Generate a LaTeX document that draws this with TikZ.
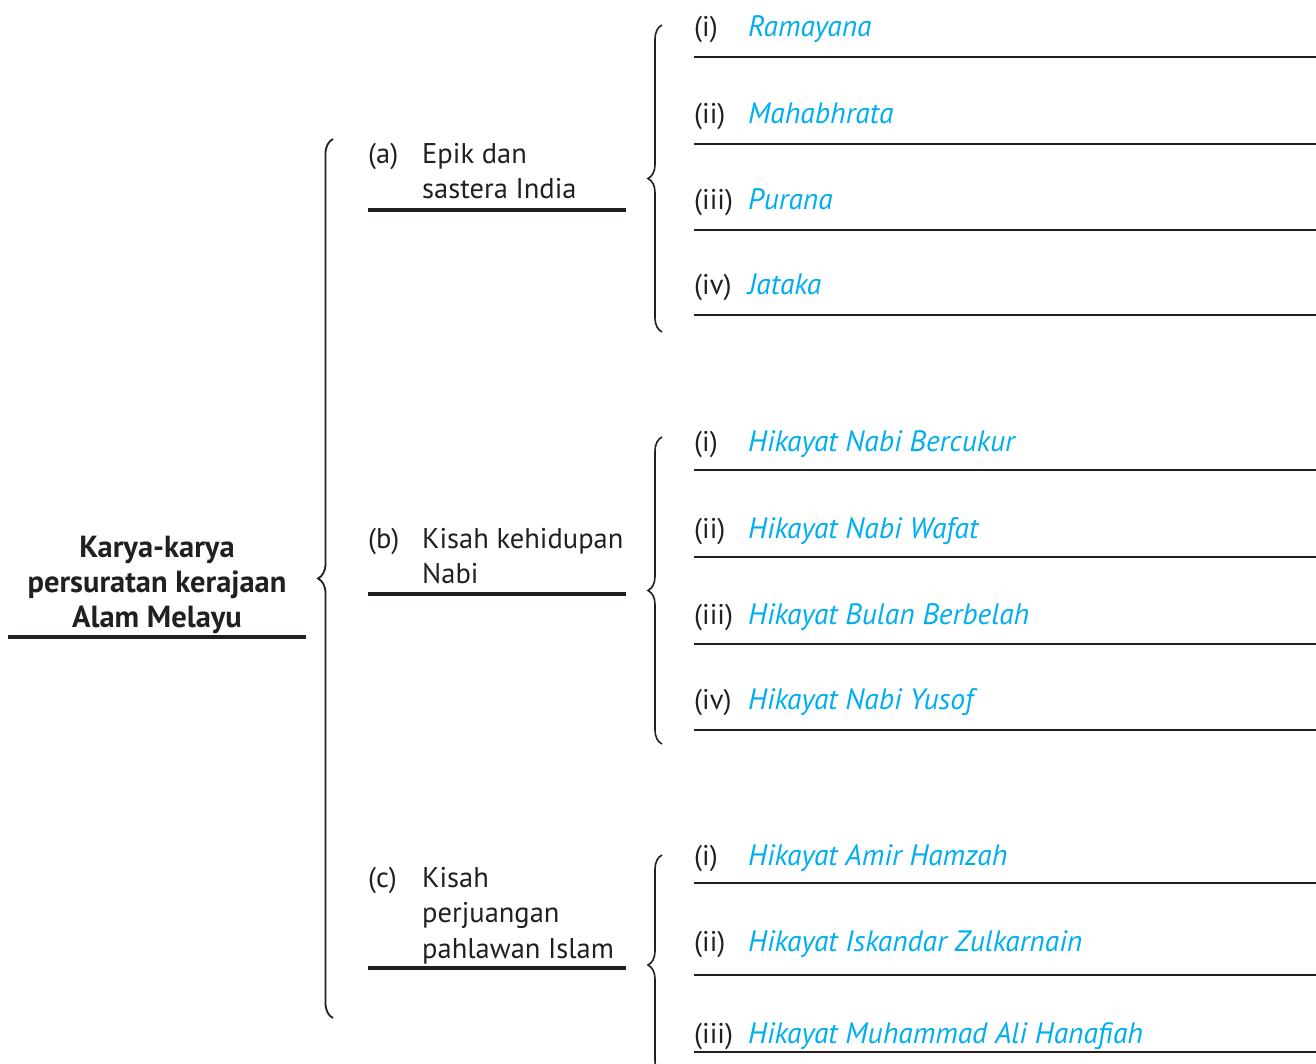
\documentclass[tikz,border=0pt]{standalone}
\usepackage{fontspec}
\setmainfont{PT Sans}
\usetikzlibrary{decorations.pathreplacing}
\definecolor{ink}{HTML}{231F20}
\definecolor{cyantext}{HTML}{00AEEF}
\begin{document}
\begin{tikzpicture}[x=1pt,y=-1pt,
  lbl/.style={anchor=base west, inner sep=0pt, font=\fontsize{28.5}{34}\selectfont, text=ink},
  itm/.style={anchor=base west, inner sep=0pt, font=\fontsize{29.5}{34}\selectfont\itshape, text=cyantext},
  ttl/.style={anchor=base, inner sep=0pt, font=\fontsize{30.5}{34}\selectfont\bfseries, text=ink},
  itemrule/.style={draw=ink, line width=2pt},
  catrule/.style={draw=ink, line width=3.5pt},
  bigbrace/.style={draw=ink, line width=1.8pt, decorate, decoration={brace, amplitude=15pt}},
  subbrace/.style={draw=ink, line width=1.6pt, decorate, decoration={brace, amplitude=14pt}}]
\useasboundingbox (0,0) rectangle (1316,1064);
\clip (0,0) rectangle (1316,1064);

% title
\node[ttl] (t1) at (157,557) {Karya-karya};
\node[ttl] (t2) at (157,592) {persuratan kerajaan};
\node[ttl] (t3) at (157,627) {Alam Melayu};
\draw[catrule] (8,637) -- (306,637);

% big brace
\coordinate (bbB) at (333,1018);
\coordinate (bbT) at (333,139);
\draw[bigbrace] (bbB) -- (bbT);

% categories
\node[lbl] (ca) at (368,164) {(a)};
\node[lbl] (ca1) at (422,164) {Epik dan};
\node[lbl] (ca2) at (422,199) {sastera India};
\draw[catrule] (368,210) -- (626,210);

\node[lbl] (cb) at (368,548) {(b)};
\node[lbl] (cb1) at (422,548) {Kisah kehidupan};
\node[lbl] (cb2) at (422,583) {Nabi};
\draw[catrule] (368,594) -- (626,594);

\node[lbl] (cc) at (368,887) {(c)};
\node[lbl] (cc1) at (422,887) {Kisah};
\node[lbl] (cc2) at (422,922) {perjuangan};
\node[lbl] (cc3) at (422,958) {pahlawan Islam};
\draw[catrule] (368,968) -- (626,968);

% sub braces
\coordinate (baB) at (662,332);
\coordinate (baT) at (662,25);
\draw[subbrace] (baB) -- (baT);
\coordinate (bbbB) at (662,744);
\coordinate (bbbT) at (662,437);
\draw[subbrace] (bbbB) -- (bbbT);
\coordinate (bcB) at (662,1075);
\coordinate (bcT) at (662,855);
\draw[subbrace] (bcB) -- (bcT);

% group a items
\node[lbl] (a1l) at (694,37) {(i)};
\node[itm] (a1) at (748,37) {Ramayana};
\draw[itemrule] (694,57) -- (1316,57);
\node[lbl] (a2l) at (694,124) {(ii)};
\node[itm] (a2) at (748,124) {Mahabhrata};
\draw[itemrule] (694,144) -- (1316,144);
\node[lbl] (a3l) at (694,210) {(iii)};
\node[itm] (a3) at (748,210) {Purana};
\draw[itemrule] (694,230) -- (1316,230);
\node[lbl] (a4l) at (694,295) {(iv)};
\node[itm] (a4) at (748,295) {Jataka};
\draw[itemrule] (694,315) -- (1316,315);

% group b items
\node[lbl] (b1l) at (694,451) {(i)};
\node[itm] (b1) at (748,451) {Hikayat Nabi Bercukur};
\draw[itemrule] (694,470) -- (1316,470);
\node[lbl] (b2l) at (694,538) {(ii)};
\node[itm] (b2) at (748,538) {Hikayat Nabi Wafat};
\draw[itemrule] (694,557) -- (1316,557);
\node[lbl] (b3l) at (694,624) {(iii)};
\node[itm] (b3) at (748,624) {Hikayat Bulan Berbelah};
\draw[itemrule] (694,644) -- (1316,644);
\node[lbl] (b4l) at (694,709) {(iv)};
\node[itm] (b4) at (748,709) {Hikayat Nabi Yusof};
\draw[itemrule] (694,730) -- (1316,730);

% group c items
\node[lbl] (c1l) at (694,865) {(i)};
\node[itm] (c1) at (748,865) {Hikayat Amir Hamzah};
\draw[itemrule] (694,883) -- (1316,883);
\node[lbl] (c2l) at (694,951) {(ii)};
\node[itm] (c2) at (748,951) {Hikayat Iskandar Zulkarnain};
\draw[itemrule] (694,975) -- (1316,975);
\node[lbl] (c3l) at (694,1043) {(iii)};
\node[itm] (c3) at (748,1043) {Hikayat Muhammad Ali Hanafiah};
\draw[itemrule] (694,1052) -- (1316,1052);
\end{tikzpicture}
\end{document}
